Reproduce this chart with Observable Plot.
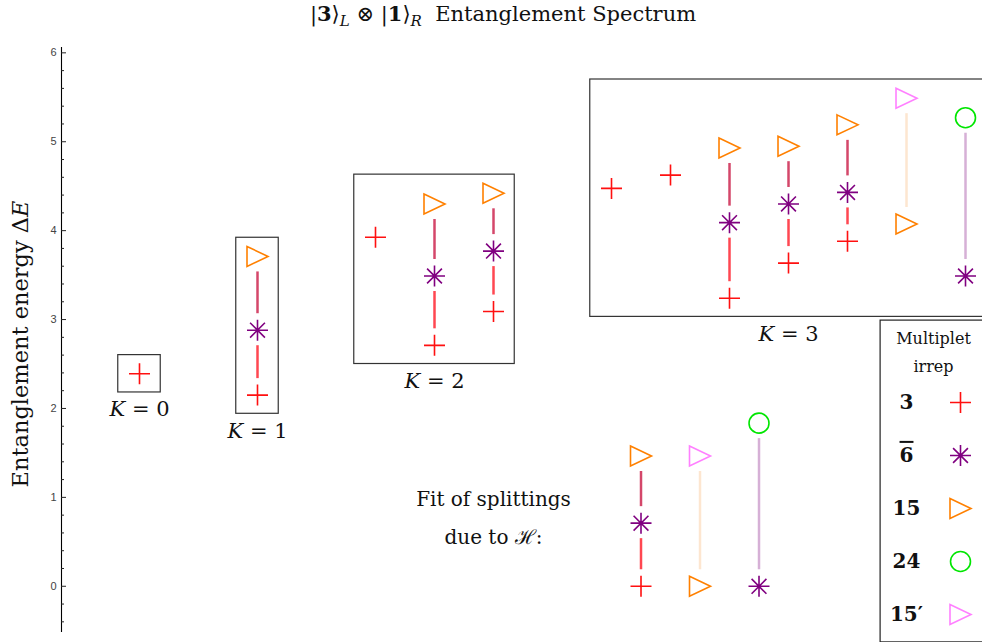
<!DOCTYPE html>
<html><head><meta charset="utf-8">
<script src="https://cdn.jsdelivr.net/npm/d3@7"></script>
<script src="https://cdn.jsdelivr.net/npm/@observablehq/plot@0.6"></script>
<style>
html,body{margin:0;padding:0;background:#fff;width:982px;height:644px;overflow:hidden;}
#wrap{position:relative;width:982px;height:644px;overflow:hidden;}
#title{height:28px;line-height:28px;text-align:center;padding-left:24px;box-sizing:border-box;width:982px;font-family:"DejaVu Serif";font-size:21px;color:#111;white-space:nowrap;}
#title sub{font-size:15px;line-height:0;vertical-align:-5px;}
#legend{position:absolute;left:879px;top:319px;width:125px;height:323px;background:#fff;}
#legend svg, #chart svg{max-width:none;}
</style></head><body>
<div id="wrap">
  <div id="title">|<b>3</b>⟩<sub><i>L</i></sub> ⊗ |<b>1</b>⟩<sub><i>R</i></sub>&nbsp; Entanglement Spectrum</div>
  <div id="chart"></div>
  <div id="legend"></div>
</div>
<script>
// ---------- data ----------
const irrepKeys   = ["3", "6b", "15", "24", "15p"];
const irrepLabels = ["3", "6", "15", "24", "15′"];
const irrepColors = ["#ff1010", "#800080", "#ff8000", "#00e600", "#ff80ff"];
const irrepShapes = ["plus", "star8", "triangleRight", "circle", "triangleRight"];

// entanglement spectrum: column slot, momentum sector K, irrep, energy
const specSlot   = [0, 2, 2, 2, 4, 5, 5, 5, 6, 6, 6, 8, 9, 10, 10, 10, 11, 11, 11, 12, 12, 12, 13, 13, 14, 14];
const specK      = [0, 1, 1, 1, 2, 2, 2, 2, 2, 2, 2, 3, 3, 3, 3, 3, 3, 3, 3, 3, 3, 3, 3, 3, 3, 3];
const specIrrep  = ["3", "15", "6b", "3", "3", "15", "6b", "3", "15", "6b", "3", "3", "3",
                    "15", "6b", "3", "15", "6b", "3", "15", "6b", "3", "15p", "15", "24", "6b"];
const specEnergy = [2.39, 3.71, 2.88, 2.15, 3.925, 4.30, 3.49, 2.71, 4.42, 3.77, 3.09, 4.475, 4.625,
                    4.93, 4.09, 3.24, 4.95, 4.30, 3.635, 5.19, 4.43, 3.88, 5.49, 4.075, 5.27, 3.49];

// fit of splittings due to H
const fitSlot   = [8.5, 8.5, 8.5, 9.5, 9.5, 10.5, 10.5];
const fitIrrep  = ["15", "6b", "3", "15p", "15", "24", "6b"];
const fitEnergy = [1.465, 0.71, 0, 1.465, 0, 1.835, 0];

// connecting line colours by (upper > lower) pair
const linkPairs  = ["15>6b", "6b>3", "15p>15", "24>6b"];
const linkColors = ["#d4476a", "#ff4751", "#fde6d0", "#d6b0d6"];

// axis ticks
const yMajorTicks = [0, 1, 2, 3, 4, 5, 6];

// ---------- shapes ----------
const rad = s => Math.sqrt(s / Math.PI);
const shapes = {
  plus: {draw(c, s) { const r = rad(s); c.moveTo(-r, 0); c.lineTo(r, 0); c.moveTo(0, -r); c.lineTo(0, r); }},
  star8: {draw(c, s) { const r = rad(s); for (let k = 0; k < 4; k++) { const a = k * Math.PI / 4; c.moveTo(-r * Math.cos(a), -r * Math.sin(a)); c.lineTo(r * Math.cos(a), r * Math.sin(a)); } }},
  triangleRight: {draw(c, s) { const r = rad(s); c.moveTo(-r, -0.95 * r); c.lineTo(r, 0); c.lineTo(-r, 0.95 * r); c.closePath(); }},
  circle: {draw(c, s) { const r = rad(s) * 0.95; c.moveTo(r, 0); c.arc(0, 0, r, 0, 2 * Math.PI); c.closePath(); }}
};

// ---------- derived tables ----------
const spectrum = specSlot.map((s, i) => ({slot: s, K: specK[i], irrep: specIrrep[i], energy: specEnergy[i]}));
const fits = fitSlot.map((s, i) => ({slot: s, irrep: fitIrrep[i], energy: fitEnergy[i]}));
const levels = spectrum.concat(fits);

const segments = [];
for (const [slot, pts] of d3.groups(levels, d => d.slot)) {
  const sorted = pts.slice().sort((a, b) => b.energy - a.energy);
  for (let i = 0; i + 1 < sorted.length; i++) {
    segments.push({slot, top: sorted[i].energy, bottom: sorted[i + 1].energy, pair: `${sorted[i].irrep}>${sorted[i + 1].irrep}`});
  }
}
const padX = 0.36, padY = 0.21;
const boxes = d3.groups(spectrum, d => d.K).map(([K, pts]) => ({
  K,
  x1: d3.min(pts, d => d.slot) - padX, x2: d3.max(pts, d => d.slot) + padX,
  y1: d3.min(pts, d => d.energy) - padY, y2: d3.max(pts, d => d.energy) + padY
}));
const yMinorTicks = d3.range(-2, 31).map(k => k / 5).filter(v => Math.abs(v - Math.round(v)) > 1e-9);

const serif = "DejaVu Serif";
const xDomain = [-1.322, 14.288];

const chart = Plot.plot({
  width: 982, height: 616,
  marginLeft: 61, marginRight: 0, marginTop: 19, marginBottom: 12,
  style: {fontFamily: "Liberation Sans", fontSize: "11px", background: "#fff", color: "#000"},
  x: {domain: xDomain, axis: null},
  y: {domain: [-0.52, 6.06], axis: null},
  marks: [
    Plot.ruleX([xDomain[0]], {stroke: "#000", strokeWidth: 1.1}),
    Plot.axisY(yMajorTicks, {tickSize: 5, dx: 5, tickPadding: 5, label: null, fill: "#444", stroke: "#222", tickFormat: d => String(d)}),
    Plot.axisY(yMinorTicks, {tickSize: 3, dx: 3, label: null, stroke: "#222", tickFormat: () => ""}),
    Plot.rect(boxes, {x1: "x1", x2: "x2", y1: "y1", y2: "y2", fill: "none", stroke: "#333", strokeWidth: 1.2}),
    Plot.text(boxes, {x: d => (d.x1 + d.x2) / 2, y: "y1", text: d => `K = ${d.K}`, dy: 17, fontFamily: serif, fontSize: 21, fill: "#111"}),
    ...linkPairs.map((p, i) => Plot.arrow(segments.filter(s => s.pair === p), {
      x1: "slot", y1: "top", x2: "slot", y2: "bottom",
      stroke: linkColors[i], strokeWidth: 2.5, headLength: 0, insetStart: 15, insetEnd: 17, strokeLinecap: "butt"
    })),
    ...irrepKeys.map((k, i) => Plot.dot(levels.filter(d => d.irrep === k), {
      x: "slot", y: "energy", symbol: shapes[irrepShapes[i]], r: 10.5, fill: "none", stroke: irrepColors[i], strokeWidth: 1.6
    })),
    Plot.text(["Fit of splittings\ndue to ℋ:"], {x: () => 6.0, y: () => 0.83, text: d => d, fontFamily: serif, fontSize: 20, lineHeight: 1.9, fill: "#111"}),
    Plot.text(["Entanglement energy ΔE"], {frameAnchor: "left", textAnchor: "middle", text: d => d, rotate: -90, dx: -41, dy: 4, fontFamily: serif, fontSize: 22.5, fill: "#111"})
  ]
});

// italic math letters
d3.select(chart).selectAll("text").each(function() {
  const t = this.textContent;
  if (/^K = \d$/.test(t)) {
    this.textContent = "";
    d3.select(this).append("tspan").attr("font-style", "italic").text("K");
    d3.select(this).append("tspan").text(t.slice(1));
  } else if (t === "Entanglement energy ΔE") {
    this.textContent = "";
    d3.select(this).append("tspan").text("Entanglement energy Δ");
    d3.select(this).append("tspan").attr("font-style", "italic").text("E");
  }
});
document.getElementById("chart").appendChild(chart);

// ---------- legend ----------
const legend = Plot.plot({
  width: 125, height: 323, margin: 0,
  style: {fontFamily: serif, background: "#fff", color: "#000"},
  x: {type: "point", domain: ["name", "marker"], range: [27, 81], padding: 0, axis: null},
  y: {type: "point", domain: irrepKeys, range: [81, 296], padding: 0, axis: null},
  marks: [
    Plot.frame({stroke: "#222", strokeWidth: 1.2, inset: 0.6}),
    Plot.text(["Multiplet\nirrep"], {frameAnchor: "top-left", textAnchor: "middle", lineAnchor: "middle", text: d => d, dx: 54, dy: 30, lineHeight: 1.75, fontSize: 16, fontFamily: serif, fill: "#111"}),
    Plot.text(irrepKeys, {x: () => "name", y: d => d, text: (d, i) => irrepLabels[i], fontSize: 20, fontWeight: "bold", fontFamily: serif, fill: "#111"}),
    ...irrepKeys.map((k, i) => Plot.dot([k], {x: () => "marker", y: d => d, symbol: shapes[irrepShapes[i]], r: 10.5, fill: "none", stroke: irrepColors[i], strokeWidth: 1.6}))
  ]
});
d3.select(legend).selectAll("text").each(function() {
  if (this.textContent === "6") this.setAttribute("style", "text-decoration: overline");
});
document.getElementById("legend").appendChild(legend);
</script>
</body></html>
